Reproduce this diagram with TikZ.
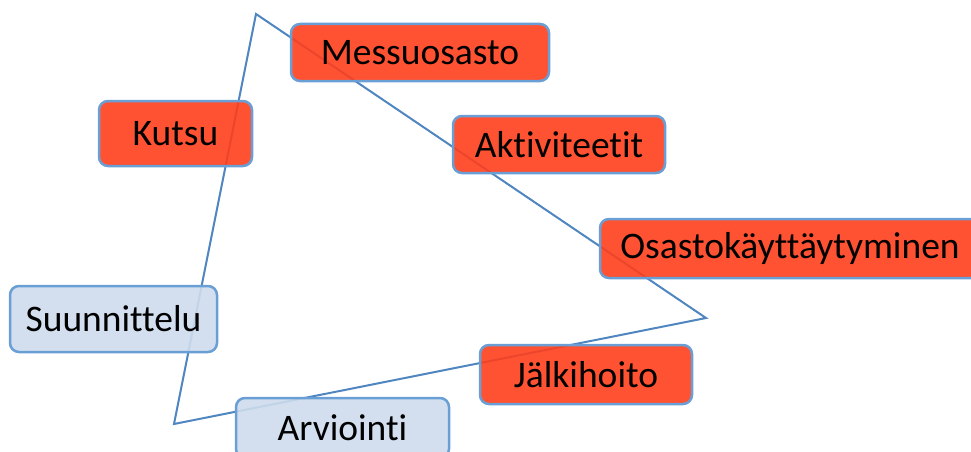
\documentclass[tikz,border=0pt]{standalone}
\usepackage{fontspec}
\setmainfont{Carlito}[Ligatures={NoCommon}]
\definecolor{redfill}{HTML}{FF3F1C}
\definecolor{bluefill}{HTML}{CEDCEC}
\definecolor{boxline}{HTML}{6A9FD6}
\definecolor{triline}{HTML}{4F86C0}
\tikzset{
  box/.style={draw=boxline, line width=2.5pt, rounded corners=9pt, fill opacity=0.9, text opacity=1,
    inner sep=0pt, font=\fontsize{37.5}{42}\selectfont, text=black},
  redbox/.style={box, fill=redfill},
  bluebox/.style={box, fill=bluefill},
}
\begin{document}
\begin{tikzpicture}[x=1pt,y=-1pt]
\useasboundingbox (0,0) rectangle (971,452);
\clip (0,0) rectangle (971,452);
\coordinate (t1) at (256,14);
\coordinate (t2) at (706,318);
\coordinate (t3) at (174,424);
\draw[triline, line width=2pt] (t1) -- (t2) -- (t3) -- cycle;
\node[redbox, minimum width=258pt, minimum height=57pt] (messu) at (420,52.5) {Messuosasto};
\node[redbox, minimum width=153pt, minimum height=65pt] (kutsu) at (175.5,133.5) {Kutsu};
\node[redbox, minimum width=212pt, minimum height=57pt] (akt) at (559,144.5) {Aktiviteetit};
\node[redbox, minimum width=380pt, minimum height=59pt] (osasto) at (790,248.5) {Osastokäyttäytyminen};
\node[bluebox, minimum width=207pt, minimum height=66pt] (suun) at (113.5,319) {Suunnittelu};
\node[redbox, minimum width=212pt, minimum height=59pt] (jalki) at (586,374.5) {Jälkihoito};
\node[bluebox, minimum width=213pt, minimum height=60pt] (arv) at (342.5,428) {Arviointi};
\end{tikzpicture}
\end{document}
